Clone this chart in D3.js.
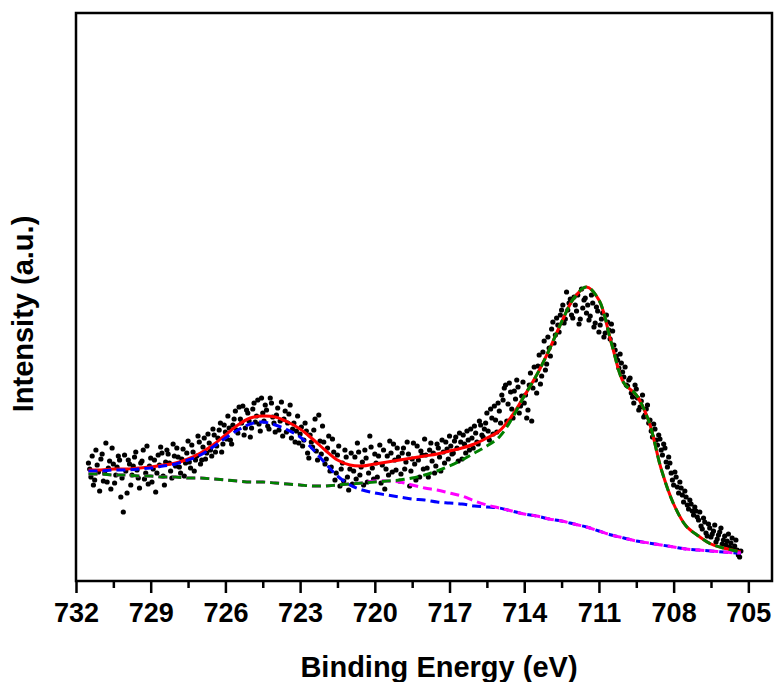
<!DOCTYPE html>
<html>
<head>
<meta charset="utf-8">
<script src="https://cdn.jsdelivr.net/npm/d3@7"></script>
<style>
  body { margin: 0; background: #fff; }
  text { font-family: "Liberation Sans", Arial, sans-serif; font-weight: bold; fill: #000; }
</style>
</head>
<body>
<script>
// fitted curves share one energy grid (eV)
var fitEnergy = [731.5, 731.0, 730.5, 730.0, 729.5, 729.0, 728.5, 728.0, 727.5, 727.0,
                 726.5, 726.0, 725.5, 725.0, 724.5, 724.0, 723.5, 723.0, 722.5, 722.0,
                 721.5, 721.0, 720.5, 720.0, 719.5, 719.0, 718.5, 718.0, 717.5, 717.0,
                 716.5, 716.0, 715.5, 715.0, 714.5, 714.0, 713.5, 713.0, 712.5, 712.0,
                 711.5, 711.0, 710.5, 710.0, 709.5, 709.0, 708.5, 708.0, 707.5, 707.0,
                 706.5, 706.0, 705.5, 705.3];

// red: total envelope
var envelope = [111, 111, 112, 112, 113, 114, 116, 118, 122, 128,
                136, 146, 156, 163, 165, 164, 159, 152, 142, 131,
                121, 116, 115, 117, 119, 121, 123, 125, 127, 130,
                133, 137, 143, 150, 165, 185, 206, 231, 259, 283,
                294, 281, 238, 198, 186, 160, 112, 77, 55, 45,
                37, 33, 30, 29];

// green: Fe 2p3/2 component
var peak2p32 = [107, 107, 106, 106, 105, 105, 104, 104, 103, 103,
                102, 101, 100, 99, 99, 98, 97, 96, 95, 95,
                96, 97, 98, 99, 100, 101, 103, 106, 110, 115,
                121, 128, 135, 144, 162, 185, 206, 231, 259, 283,
                294, 281, 238, 198, 186, 160, 112, 77, 55, 45,
                37, 33, 30, 29];

// blue: Fe 2p1/2 component
var peak2p12 = [110, 110, 111, 111, 112, 113, 115, 117, 121, 126,
                134, 143, 151, 157, 159, 156, 151, 144, 132, 118,
                105, 96, 91, 88, 86, 84, 82, 81, 79, 78,
                77, 75, 74, 73, 70, 67, 65, 62, 60, 57,
                54, 50, 46, 43, 40, 38, 36, 34, 32, 31,
                30, 29, 28, 28];

// magenta: satellite / background
var satellite = [107, 107, 106, 106, 105, 105, 104, 104, 103, 103,
                 102, 101, 100, 99, 99, 98, 97, 96, 95, 95,
                 96, 97, 98, 100, 100, 99, 96, 93, 91, 88,
                 85, 80, 76, 73, 70, 67, 65, 62, 60, 57,
                 54, 50, 46, 43, 40, 38, 36, 34, 32, 31,
                 30, 29, 28, 28];

// measured points [eV, counts a.u.], 0.1 eV scan
var scanA = [
  [731.5,118],[731.4,104],[731.3,96],[731.2,131],[731.1,109],[731.0,122],[730.9,100],[730.8,138],[730.7,113],[730.6,92],
  [730.5,117],[730.4,106],[730.3,125],[730.2,84],[730.1,69],[730.0,110],[729.9,121],[729.8,96],[729.7,115],[729.6,129],
  [729.5,103],[729.4,118],[729.3,131],[729.2,108],[729.1,97],[729.0,123],[728.9,112],[728.8,89],[728.7,126],[728.6,134],
  [728.5,105],[728.4,119],[728.3,127],[728.2,110],[728.1,137],[728.0,115],[727.9,124],[727.8,108],[727.7,132],[727.6,118],
  [727.5,140],[727.4,113],[727.3,129],[727.2,121],[727.1,145],[727.0,117],[726.9,134],[726.8,122],[726.7,147],[726.6,131],
  [726.5,152],[726.4,129],[726.3,143],[726.2,158],[726.1,137],[726.0,149],[725.9,165],[725.8,141],[725.7,156],[725.6,170],
  [725.5,148],[725.4,162],[725.3,175],[725.2,153],[725.1,168],[725.0,144],[724.9,172],[724.8,159],[724.7,181],[724.6,150],
  [724.5,168],[724.4,176],[724.3,155],[724.2,183],[724.1,164],[724.0,149],[723.9,173],[723.8,160],[723.7,145],[723.6,170],
  [723.5,158],[723.4,176],[723.3,152],[723.2,139],[723.1,165],[723.0,147],[722.9,135],[722.8,158],[722.7,128],[722.6,146],
  [722.5,134],[722.4,162],[722.3,121],[722.2,140],[722.1,155],[722.0,117],[721.9,133],[721.8,110],[721.7,142],[721.6,101],
  [721.5,126],[721.4,95],[721.3,118],[721.2,131],[721.1,104],[721.0,112],[720.9,97],[720.8,124],[720.7,138],[720.6,106],
  [720.5,119],[720.4,131],[720.3,99],[720.2,145],[720.1,113],[720.0,127],[719.9,104],[719.8,136],[719.7,116],[719.6,92],
  [719.5,125],[719.4,140],[719.3,109],[719.2,121],[719.1,133],[719.0,100],[718.9,128],[718.8,112],[718.7,139],[718.6,95],
  [718.5,122],[718.4,117],[718.3,135],[718.2,104],[718.1,126],[718.0,142],[717.9,113],[717.8,131],[717.7,120],[717.6,108],
  [717.5,137],[717.4,124],[717.3,141],[717.2,118],[717.1,132],[717.0,145],[716.9,127],[716.8,140],[716.7,133],[716.6,148],
  [716.5,122],[716.4,137],[716.3,150],[716.2,131],[716.1,143],[716.0,155],[715.9,139],[715.8,160],[715.7,146],[715.6,152],
  [715.5,168],[715.4,141],[715.3,163],[715.2,175],[715.1,149],[715.0,170],[714.9,186],[714.8,193],[714.7,160],[714.6,198],
  [714.5,172],[714.4,190],[714.3,201],[714.2,168],[714.1,185],[714.0,178],[713.9,163],[713.8,196],[713.7,160],[713.6,214],
  [713.5,188],[713.4,226],[713.3,205],[713.2,240],[713.1,217],[713.0,233],[712.9,252],[712.8,238],[712.7,263],[712.6,249],
  [712.5,271],[712.4,258],[712.3,289],[712.2,278],[712.1,266],[712.0,284],[711.9,270],[711.8,257],[711.7,292],[711.6,281],
  [711.5,268],[711.4,261],[711.3,286],[711.2,254],[711.1,274],[711.0,249],[710.9,262],[710.8,244],[710.7,266],[710.6,251],
  [710.5,257],[710.4,236],[710.3,225],[710.2,213],[710.1,218],[710.0,204],[709.9,196],[709.8,201],[709.7,188],[709.6,178],
  [709.5,192],[709.4,171],[709.3,180],[709.2,164],[709.1,172],[709.0,158],[708.9,150],[708.8,157],[708.7,141],[708.6,146],
  [708.5,131],[708.4,137],[708.3,119],[708.2,124],[708.1,108],[708.0,96],[707.9,104],[707.8,88],[707.7,93],[707.6,79],
  [707.5,84],[707.4,72],[707.3,77],[707.2,66],[707.1,70],[707.0,61],[706.9,55],[706.8,63],[706.7,48],[706.6,57],
  [706.5,44],[706.4,50],[706.3,39],[706.2,46],[706.1,53],[706.0,41],[705.9,36],[705.8,47],[705.7,38],[705.6,32],
  [705.5,41],[705.4,26],[705.3,30]
];

// second pass, half-step offset
var scanB = [
  [731.45,112],[731.35,125],[731.25,101],[731.15,116],[731.05,90],[730.95,127],[730.85,108],[730.75,99],[730.65,120],[730.55,133],
  [730.45,98],[730.35,114],[730.25,121],[730.15,103],[730.05,126],[729.95,88],[729.85,117],[729.75,106],[729.65,124],[729.55,111],
  [729.45,93],[729.35,120],[729.25,102],[729.15,135],[729.05,115],[728.95,99],[728.85,121],[728.75,108],[728.65,116],[728.55,128],
  [728.45,96],[728.35,131],[728.25,118],[728.15,103],[728.05,125],[727.95,133],[727.85,114],[727.75,122],[727.65,105],[727.55,128],
  [727.45,119],[727.35,136],[727.25,110],[727.15,125],[727.05,139],[726.95,121],[726.85,143],[726.75,128],[726.65,138],[726.55,125],
  [726.45,146],[726.35,135],[726.25,151],[726.15,129],[726.05,156],[725.95,142],[725.85,153],[725.75,137],[725.65,162],[725.55,151],
  [725.45,174],[725.35,158],[725.25,146],[725.15,171],[725.05,160],[724.95,153],[724.85,178],[724.75,165],[724.65,157],[724.55,183],
  [724.45,160],[724.35,171],[724.25,152],[724.15,178],[724.05,158],[723.95,166],[723.85,151],[723.75,179],[723.65,162],[723.55,149],
  [723.45,167],[723.35,143],[723.25,158],[723.15,150],[723.05,138],[722.95,154],[722.85,141],[722.75,150],[722.65,123],[722.55,139],
  [722.45,151],[722.35,130],[722.25,166],[722.15,127],[722.05,139],[721.95,122],[721.85,145],[721.75,114],[721.65,129],[721.55,108],
  [721.45,135],[721.35,112],[721.25,100],[721.15,124],[721.05,91],[720.95,128],[720.85,110],[720.75,102],[720.65,129],[720.55,114],
  [720.45,96],[720.35,123],[720.25,108],[720.15,134],[720.05,102],[719.95,118],[719.85,125],[719.75,98],[719.65,131],[719.55,112],
  [719.45,106],[719.35,128],[719.25,137],[719.15,111],[719.05,124],[718.95,107],[718.85,133],[718.75,119],[718.65,127],[718.55,110],
  [718.45,138],[718.35,101],[718.25,121],[718.15,130],[718.05,112],[717.95,126],[717.85,104],[717.75,138],[717.65,128],[717.55,115],
  [717.45,133],[717.35,110],[717.25,129],[717.15,139],[717.05,122],[716.95,135],[716.85,128],[716.75,144],[716.65,120],[716.55,139],
  [716.45,146],[716.35,128],[716.25,141],[716.15,152],[716.05,133],[715.95,148],[715.85,137],[715.75,156],[715.65,144],[715.55,158],
  [715.45,150],[715.35,172],[715.25,147],[715.15,161],[715.05,178],[714.95,158],[714.85,181],[714.75,196],[714.65,177],[714.55,189],
  [714.45,163],[714.35,182],[714.25,194],[714.15,175],[714.05,199],[713.95,186],[713.85,171],[713.75,208],[713.65,193],[713.55,201],
  [713.45,215],[713.35,197],[713.25,229],[713.15,211],[713.05,244],[712.95,225],[712.85,259],[712.75,246],[712.65,256],[712.55,266],
  [712.45,276],[712.35,262],[712.25,271],[712.15,282],[712.05,263],[711.95,276],[711.85,286],[711.75,262],[711.65,273],[711.55,283],
  [711.45,276],[711.35,265],[711.25,278],[711.15,258],[711.05,270],[710.95,256],[710.85,268],[710.75,248],[710.65,259],[710.55,242],
  [710.45,250],[710.35,231],[710.25,221],[710.15,227],[710.05,209],[709.95,214],[709.85,195],[709.75,203],[709.65,184],[709.55,196],
  [709.45,183],[709.35,174],[709.25,186],[709.15,166],[709.05,176],[708.95,161],[708.85,144],[708.75,152],[708.65,136],[708.55,142],
  [708.45,126],[708.35,133],[708.25,114],[708.15,118],[708.05,101],[707.95,109],[707.85,94],[707.75,99],[707.65,86],[707.55,90],
  [707.45,76],[707.35,81],[707.25,70],[707.15,74],[707.05,64],[706.95,69],[706.85,52],[706.75,59],[706.65,45],[706.55,53],
  [706.45,47],[706.35,56],[706.25,42],[706.15,49],[706.05,37],[705.95,45],[705.85,40],[705.75,34],[705.65,43],[705.55,35],
  [705.45,31],[705.35,24]
];

var xTicks = [732, 729, 726, 723, 720, 717, 714, 711, 708, 705];
var xMinorTicks = [730.5, 727.5, 724.5, 721.5, 718.5, 715.5, 712.5, 709.5, 706.5];

var chart = {
  box: { left: 76, top: 13, right: 772, bottom: 581 },

  init: function(){
    var b = chart.box;
    chart.svg = d3.select("body").append("svg")
                  .attr("width", 775)
                  .attr("height", 682);
    chart.x = d3.scaleLinear().domain([732, 704.05]).range([b.left, b.right]);
    chart.y = d3.scaleLinear().domain([0, 568]).range([b.bottom, b.top]);
  },

  axes: function(){
    var b = chart.box, svg = chart.svg;

    // minor ticks first, major on top
    svg.append("g")
       .attr("transform", "translate(0," + b.bottom + ")")
       .call(d3.axisBottom(chart.x).tickValues(xMinorTicks).tickSize(7).tickFormat(""))
       .call(function(g){ g.select(".domain").remove(); })
       .selectAll("line").attr("stroke", "#000").attr("stroke-width", 2.5);

    var major = svg.append("g")
       .attr("transform", "translate(0," + b.bottom + ")")
       .call(d3.axisBottom(chart.x).tickValues(xTicks).tickSize(12).tickPadding(10)
                                    .tickFormat(d3.format("d")));
    major.select(".domain").remove();
    major.selectAll("line").attr("stroke", "#000").attr("stroke-width", 2.5);
    major.selectAll("text")
         .style("font-size", "27px")
         .style("font-family", "'Liberation Sans', Arial, sans-serif")
         .style("font-weight", "bold")
         .attr("fill", "#000");

    svg.append("rect")
       .attr("x", b.left)
       .attr("y", b.top)
       .attr("width", b.right - b.left)
       .attr("height", b.bottom - b.top)
       .attr("fill", "none")
       .attr("stroke", "#000")
       .attr("stroke-width", 2.5);

    svg.append("text")
       .attr("x", 439)
       .attr("y", 677)
       .attr("text-anchor", "middle")
       .style("font-size", "29px")
       .text("Binding Energy (eV)");

    svg.append("text")
       .attr("transform", "translate(33,314) rotate(-90)")
       .attr("text-anchor", "middle")
       .style("font-size", "29px")
       .text("Intensity (a.u.)");
  },

  points: function(data){
    chart.svg.append("g")
       .selectAll("circle")
       .data(data)
       .enter().append("circle")
       .attr("cx", function(d) { return chart.x(d[0]); })
       .attr("cy", function(d) { return chart.y(d[1]); })
       .attr("r", 2.6)
       .attr("fill", "#000");
  },

  curve: function(values, color, dashed){
    var line = d3.line()
                 .x(function(d, i) { return chart.x(fitEnergy[i]); })
                 .y(function(d) { return chart.y(d); })
                 .curve(d3.curveCatmullRom.alpha(0.5));
    chart.svg.append("path")
       .datum(values)
       .attr("d", line)
       .attr("fill", "none")
       .attr("stroke", color)
       .attr("stroke-width", 3)
       .attr("stroke-dasharray", dashed ? "9,5" : null);
  }
};

chart.init();
chart.axes();
chart.points(scanA.concat(scanB));
chart.curve(envelope, "#ff0000", false);
chart.curve(peak2p12, "#0000ff", true);
chart.curve(satellite, "#ff00ff", true);
chart.curve(peak2p32, "#008000", true);
</script>
</body>
</html>
